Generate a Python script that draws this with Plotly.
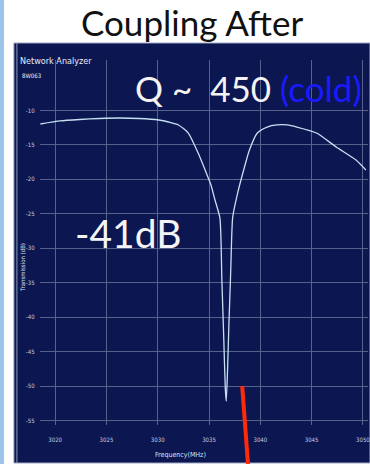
import plotly.graph_objects as go

W, H = 370, 464

# Measured transmission trace (frequency in MHz, transmission in dB)
freq_mhz = [3018.56, 3020.48, 3022.40, 3024.33, 3026.25, 3028.17, 3030.10, 3031.06,
            3032.02, 3032.98, 3033.94, 3034.62, 3035.19, 3035.58, 3036.06, 3036.25,
            3036.44, 3036.59, 3036.68, 3036.80, 3036.92, 3037.12, 3037.31, 3037.79,
            3038.46, 3038.94, 3039.71, 3040.67, 3041.63, 3042.60, 3043.56, 3045.48,
            3047.40, 3049.33, 3050.29]
trans_db = [-11.96, -11.52, -11.31, -11.16, -11.09, -11.16, -11.38, -11.67,
            -12.10, -13.27, -16.17, -18.64, -20.81, -22.99, -25.60, -34.48,
            -43.19, -50.45, -52.20, -48.00, -41.90, -33.15, -25.46, -21.98,
            -18.20, -15.73, -13.27, -12.40, -12.10, -12.10, -12.40, -13.27,
            -15.30, -17.19, -18.64]

x_ticks = [3020, 3025, 3030, 3035, 3040, 3045, 3050]
y_ticks = [-10, -15, -20, -25, -30, -35, -40, -45, -50, -55]

NAVY = "#0c1650"
GRID = "#56628a"
TICK = "#c3cbe0"
FONT = "Lato, 'Open Sans', sans-serif"
SMALL = "'DejaVu Sans Condensed', sans-serif"


def px(x):
    return x / W


def py(y):
    return 1 - y / H


def label(text, x, y, size, color, family=FONT, xanchor="center", **kw):
    return dict(text=text, x=px(x), y=py(y), xref="paper", yref="paper",
                xanchor=xanchor, yanchor="middle", showarrow=False,
                font=dict(family=family, size=size, color=color), **kw)


fig = go.Figure()
fig.add_trace(go.Scatter(
    x=freq_mhz, y=trans_db, mode="lines",
    line=dict(color="#c6e0f2", width=1.3, shape="spline", smoothing=0.6),
    hoverinfo="skip", showlegend=False,
))

shapes = [
    # light strip on the far left
    dict(type="rect", xref="paper", yref="paper", x0=0, x1=px(4), y0=0, y1=1,
         fillcolor="#9cc4ea", line=dict(width=0), layer="below"),
    # analyzer screen panel
    dict(type="rect", xref="paper", yref="paper", x0=px(14), x1=px(372),
         y0=py(463), y1=py(43), fillcolor=NAVY,
         line=dict(color="#9aa6c4", width=1), layer="below"),
    dict(type="line", xref="paper", yref="paper", x0=px(17), x1=px(17),
         y0=py(463), y1=py(43), line=dict(color="#8e9aba", width=1), layer="below"),
    # red pointer
    dict(type="line", xref="paper", yref="paper", x0=px(243.5), x1=px(249.5),
         y0=py(386), y1=py(466), line=dict(color="#ff2a0a", width=4)),
]

annotations = [
    label("Coupling After", 193, 22, 35, "#111111"),
    label("Network Analyzer", 18, 61, 9, "#e8ecf6",
          family="'Liberation Sans Narrow', 'DejaVu Sans Condensed', sans-serif",
          xanchor="left"),
    label("8W063", 20, 76, 6, "#e8ecf6", family=SMALL, xanchor="left"),
    label("Q ~  450 <span style='color:#1a1aff'>(cold)</span>", 366, 88, 35,
          "#f4f4f4", xanchor="right"),
    label("-41dB", 73, 233, 39, "#f4f4f4", xanchor="left"),
    label("Transmission (dB)", 22, 267, 6, "#dfe4f0", family=SMALL, textangle=-90),
    label("Frequency(MHz)", 181, 455, 7, "#dfe4f0", family=SMALL),
]

fig.update_layout(
    width=W, height=H,
    margin=dict(l=0, r=0, t=0, b=0),
    paper_bgcolor="white",
    plot_bgcolor="rgba(0,0,0,0)",
    shapes=shapes,
    annotations=annotations,
    showlegend=False,
    xaxis=dict(
        domain=[px(40), 1.0],
        range=[3018.5, 3050.5],
        tickvals=x_ticks, ticktext=[str(v) for v in x_ticks],
        showgrid=True, gridcolor=GRID, gridwidth=1,
        zeroline=False, showline=False,
        ticks="outside", ticklen=9, tickcolor="rgba(0,0,0,0)",
        ticklabeloverflow="allow",
        tickfont=dict(family=SMALL, size=6, color=TICK),
    ),
    yaxis=dict(
        domain=[py(425), py(60)],
        range=[-55.65, -2.67],
        tickvals=y_ticks, ticktext=[str(v) for v in y_ticks],
        showgrid=True, gridcolor=GRID, gridwidth=1,
        zeroline=False, showline=False,
        ticks="outside", ticklen=3, tickcolor="rgba(0,0,0,0)",
        tickfont=dict(family=SMALL, size=6, color=TICK),
    ),
)

fig.write_html("out.html")
